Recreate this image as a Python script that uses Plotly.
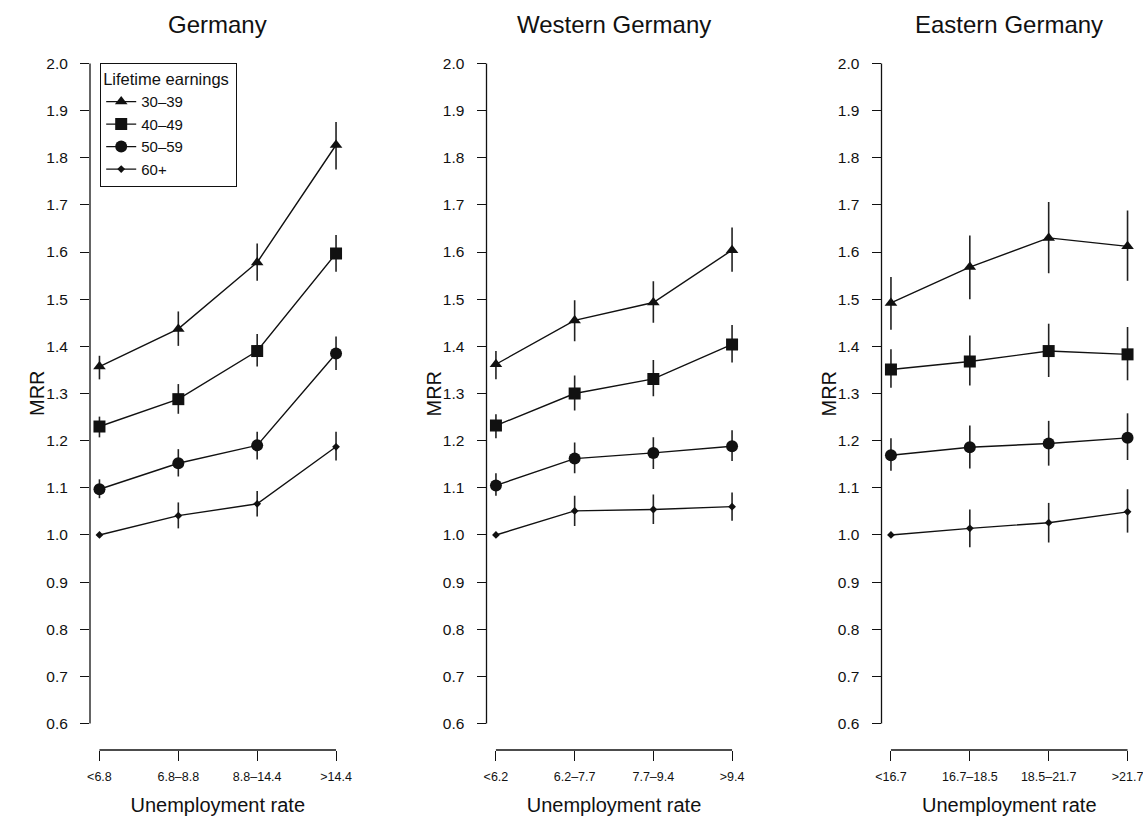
import plotly.graph_objects as go

# ---------------- data ----------------
panel_titles = ["Germany", "Western Germany", "Eastern Germany"]
germany_labels = ["<6.8", "6.8–8.8", "8.8–14.4", ">14.4"]
west_labels = ["<6.2", "6.2–7.7", "7.7–9.4", ">9.4"]
east_labels = ["<16.7", "16.7–18.5", "18.5–21.7", ">21.7"]
groups = ["30–39", "40–49", "50–59", "60+"]

# Germany
g_30 = [1.357, 1.437, 1.578, 1.827]
g_30_lo = [1.330, 1.401, 1.539, 1.775]
g_30_hi = [1.380, 1.474, 1.618, 1.876]
g_40 = [1.230, 1.288, 1.390, 1.597]
g_40_lo = [1.207, 1.257, 1.357, 1.558]
g_40_hi = [1.251, 1.320, 1.426, 1.636]
g_50 = [1.097, 1.152, 1.190, 1.385]
g_50_lo = [1.078, 1.124, 1.160, 1.350]
g_50_hi = [1.118, 1.182, 1.219, 1.421]
g_60 = [1.000, 1.041, 1.066, 1.187]
g_60_lo = [1.000, 1.014, 1.039, 1.158]
g_60_hi = [1.000, 1.069, 1.093, 1.219]

# Western Germany
w_30 = [1.362, 1.455, 1.493, 1.604]
w_30_lo = [1.330, 1.411, 1.450, 1.558]
w_30_hi = [1.390, 1.498, 1.538, 1.652]
w_40 = [1.232, 1.300, 1.331, 1.404]
w_40_lo = [1.205, 1.264, 1.294, 1.366]
w_40_hi = [1.256, 1.338, 1.371, 1.445]
w_50 = [1.105, 1.162, 1.174, 1.188]
w_50_lo = [1.083, 1.131, 1.140, 1.157]
w_50_hi = [1.131, 1.196, 1.207, 1.222]
w_60 = [1.000, 1.051, 1.054, 1.060]
w_60_lo = [1.000, 1.019, 1.023, 1.030]
w_60_hi = [1.000, 1.083, 1.086, 1.090]

# Eastern Germany
e_30 = [1.492, 1.568, 1.630, 1.612]
e_30_lo = [1.435, 1.500, 1.555, 1.539]
e_30_hi = [1.547, 1.635, 1.706, 1.688]
e_40 = [1.351, 1.368, 1.390, 1.383]
e_40_lo = [1.312, 1.317, 1.335, 1.328]
e_40_hi = [1.394, 1.423, 1.448, 1.441]
e_50 = [1.169, 1.186, 1.194, 1.206]
e_50_lo = [1.136, 1.141, 1.147, 1.159]
e_50_hi = [1.205, 1.232, 1.242, 1.258]
e_60 = [1.000, 1.014, 1.026, 1.049]
e_60_lo = [1.000, 0.974, 0.984, 1.005]
e_60_hi = [1.000, 1.054, 1.068, 1.097]

y_ticks = [0.6, 0.7, 0.8, 0.9, 1.0, 1.1, 1.2, 1.3, 1.4, 1.5, 1.6, 1.7, 1.8, 1.9, 2.0]

panels = [
    (germany_labels, [(g_30, g_30_lo, g_30_hi), (g_40, g_40_lo, g_40_hi),
                      (g_50, g_50_lo, g_50_hi), (g_60, g_60_lo, g_60_hi)]),
    (west_labels, [(w_30, w_30_lo, w_30_hi), (w_40, w_40_lo, w_40_hi),
                   (w_50, w_50_lo, w_50_hi), (w_60, w_60_lo, w_60_hi)]),
    (east_labels, [(e_30, e_30_lo, e_30_hi), (e_40, e_40_lo, e_40_hi),
                   (e_50, e_50_lo, e_50_hi), (e_60, e_60_lo, e_60_hi)]),
]

# ---------------- styling ----------------
W, H = 1143, 817
FONT = "Liberation Sans, Arial, Helvetica, sans-serif"
INK = "#111111"
symbols = ["triangle-up", "square", "circle", "diamond"]
sizes = [11, 12, 12, 6]
x_dom_px = [(90, 345.5), (486.5, 741.5), (881.5, 1137)]
y_dom = [1 - 750 / H, 1 - 37 / H]

fig = go.Figure()
layout_axes = {}
shapes = []
annotations = []

for p, (labels, series) in enumerate(panels):
    xa = "x" if p == 0 else f"x{p+1}"
    ya = "y" if p == 0 else f"y{p+1}"
    for g, (vals, lo, hi) in enumerate(series):
        plus = [h - v for v, h in zip(vals, hi)]
        minus = [v - l for v, l in zip(vals, lo)]
        fig.add_trace(go.Scatter(
            x=labels, y=vals, mode="lines+markers",
            name=groups[g], legendgroup=groups[g], showlegend=(p == 0),
            line=dict(color=INK, width=1.4),
            marker=dict(symbol=symbols[g], size=sizes[g], color=INK,
                        line=dict(width=0)),
            error_y=dict(type="data", symmetric=False, array=plus,
                         arrayminus=minus, width=0, thickness=1.6, color="#222222"),
            xaxis=xa, yaxis=ya,
        ))
    x0, x1 = x_dom_px[p]
    xkey = "xaxis" if p == 0 else f"xaxis{p+1}"
    ykey = "yaxis" if p == 0 else f"yaxis{p+1}"
    layout_axes[xkey] = dict(
        domain=[x0 / W, x1 / W], anchor=ya, type="category",
        categoryorder="array", categoryarray=labels,
        range=[-0.12, 3.12], showgrid=False, zeroline=False, showline=False,
        ticks="outside", ticklen=10, tickwidth=1.3, tickcolor=INK,
        ticklabelstandoff=5,
        tickfont=dict(family=FONT, size=12.5, color=INK),
        title=dict(text="Unemployment rate", font=dict(family=FONT, size=20, color=INK),
                   standoff=14),
        automargin=False, fixedrange=True,
    )
    layout_axes[ykey] = dict(
        domain=y_dom, anchor=xa, range=[0.544, 2.056],
        tickvals=y_ticks, ticktext=[f"{t:.1f}" for t in y_ticks],
        showgrid=False, zeroline=False, showline=False,
        ticks="outside", ticklen=9, tickwidth=1.3, tickcolor=INK,
        ticklabelstandoff=9,
        tickfont=dict(family=FONT, size=15.5, color=INK),
        automargin=False, fixedrange=True,
    )
    # R-style axis lines spanning only the tick range
    shapes.append(dict(type="line", xref=xa, yref=f"{ya} domain",
                       x0=labels[0], x1=labels[-1], y0=0, y1=0,
                       line=dict(color=INK, width=1.3)))
    shapes.append(dict(type="line", xref=f"{xa} domain", yref=ya,
                       x0=0, x1=0, y0=y_ticks[0], y1=y_ticks[-1],
                       line=dict(color=INK, width=1.3)))
    annotations.append(dict(text=panel_titles[p], xref="paper", yref="paper",
                            x=(x0 + x1) / 2 / W, y=1 - 25 / H,
                            xanchor="center", yanchor="middle", showarrow=False,
                            font=dict(family=FONT, size=24, color=INK)))
    # y-axis title (MRR), placed like R's mtext
    annotations.append(dict(text="MRR", xref="paper", yref="paper",
                            x=(x0 - 53) / W, y=1 - 393 / H, textangle=-90,
                            xanchor="center", yanchor="middle", showarrow=False,
                            font=dict(family=FONT, size=20, color=INK)))

fig.update_layout(
    width=W, height=H,
    margin=dict(l=0, r=0, t=0, b=0),
    paper_bgcolor="white", plot_bgcolor="white",
    font=dict(family=FONT, color=INK),
    shapes=shapes, annotations=annotations,
    legend=dict(
        x=100 / W, y=1 - 62.7 / H, xanchor="left", yanchor="top",
        bordercolor=INK, borderwidth=1.2, bgcolor="white",
        font=dict(family=FONT, size=15, color=INK),
        title=dict(text="Lifetime earnings ", side="top",
                   font=dict(family=FONT, size=16.5, color=INK)),
        tracegroupgap=0, itemwidth=30,
    ),
    **layout_axes,
)

fig.write_html("out.html", config={"displayModeBar": False},
               post_script="document.body.style.margin='0';")
